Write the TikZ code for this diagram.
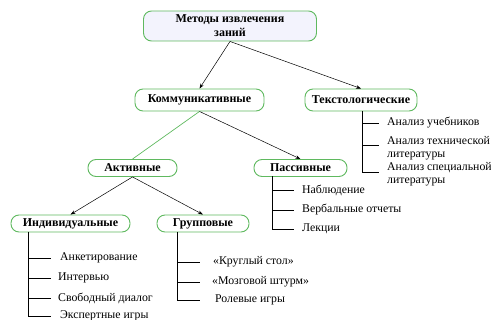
\documentclass[tikz,border=0pt]{standalone}
\usepackage{fontspec}
\setmainfont{Liberation Serif}
\usetikzlibrary{arrows.meta}
\definecolor{ramka}{RGB}{95,185,95}
\definecolor{zalivka}{RGB}{243,243,253}
\tikzset{
  uzel/.style={draw=ramka, line width=0.9pt, rounded corners=8pt, fill=white,
    font=\bfseries\fontsize{12}{14}\selectfont, align=center, inner sep=1pt},
  strelka/.style={-{Stealth[length=5pt,width=3.5pt]}, line width=0.5pt},
  punkt/.style={anchor=west, font=\fontsize{11.8}{12.5}\selectfont, align=left, inner sep=0pt},
  vetka/.style={line width=0.6pt}
}
\begin{document}
\begin{tikzpicture}[x=1pt,y=-1pt]
  \useasboundingbox (0,0) rectangle (491,320);
  \clip (0,0) rectangle (491,320);

  \node[uzel, fill=zalivka, minimum width=173pt, minimum height=30pt] (metody) at (230,26) {Методы извлечения\\заний};
  \node[uzel, minimum width=129pt, minimum height=22pt] (komm) at (199.5,100) {Коммуникативные};
  \node[uzel, minimum width=112pt, minimum height=22pt] (tekst) at (361,100) {Текстологические};
  \node[uzel, minimum width=89pt, minimum height=17pt] (aktiv) at (132.5,168) {Активные};
  \node[uzel, minimum width=93pt, minimum height=17pt] (passiv) at (300.5,168) {Пассивные};
  \node[uzel, minimum width=119pt, minimum height=17pt] (individ) at (70.5,223.5) {Индивидуальные};
  \node[uzel, minimum width=92pt, minimum height=17pt] (grupp) at (203,223.5) {Групповые};

  \draw[strelka] (metody.south) -- (komm.north);
  \draw[strelka] (metody.south) -- (tekst.north);
  \draw[ramka, line width=0.7pt] (komm.south) -- (aktiv.north);
  \draw[strelka] (komm.south) -- (passiv.north);
  \draw[strelka] (aktiv.south) -- (individ.north);
  \draw[strelka] (aktiv.south) -- (grupp.north);

  % списки под узлами
  \draw[vetka] (362,111) -- (362,172);
  \foreach \y/\ty/\t [count=\i] in {123/123/Анализ учебников, 145/148/{Анализ технической\\литературы}, 172/174/{Анализ специальной\\литературы}} {
    \coordinate (tk\i) at (362,\y);
    \coordinate (tt\i) at (379,\y);
    \draw[vetka] (tk\i) -- (tt\i);
    \node[punkt] (tekst\i) at (387,\ty) {\t};
  }

  \draw[vetka] (272,176.5) -- (272,229);
  \foreach \y/\t [count=\i] in {190/Наблюдение, 210/Вербальные отчеты, 229/Лекции} {
    \coordinate (pk\i) at (272,\y);
    \coordinate (pt\i) at (294,\y);
    \draw[vetka] (pk\i) -- (pt\i);
    \node[punkt] (passiv\i) at (302,\y) {\t};
  }

  \draw[vetka] (28,232) -- (28,316);
  \foreach \y/\x/\t [count=\i] in {258/60/Анкетирование, 278/58/Интервью, 298/58/Свободный диалог, 316/60/Экспертные игры} {
    \coordinate (ik\i) at (28,\y);
    \coordinate (it\i) at (51,\y);
    \draw[vetka] (ik\i) -- (it\i);
    \node[punkt] (individ\i) at (\x,\y) {\t};
  }

  \draw[vetka] (177,232) -- (177,300);
  \foreach \y/\x/\t [count=\i] in {262/213/«Круглый стол», 282/212/«Мозговой штурм», 300/215/Ролевые игры} {
    \coordinate (gk\i) at (177,\y);
    \coordinate (gt\i) at (200,\y);
    \draw[vetka] (gk\i) -- (gt\i);
    \node[punkt] (grupp\i) at (\x,\y) {\t};
  }
\end{tikzpicture}
\end{document}
